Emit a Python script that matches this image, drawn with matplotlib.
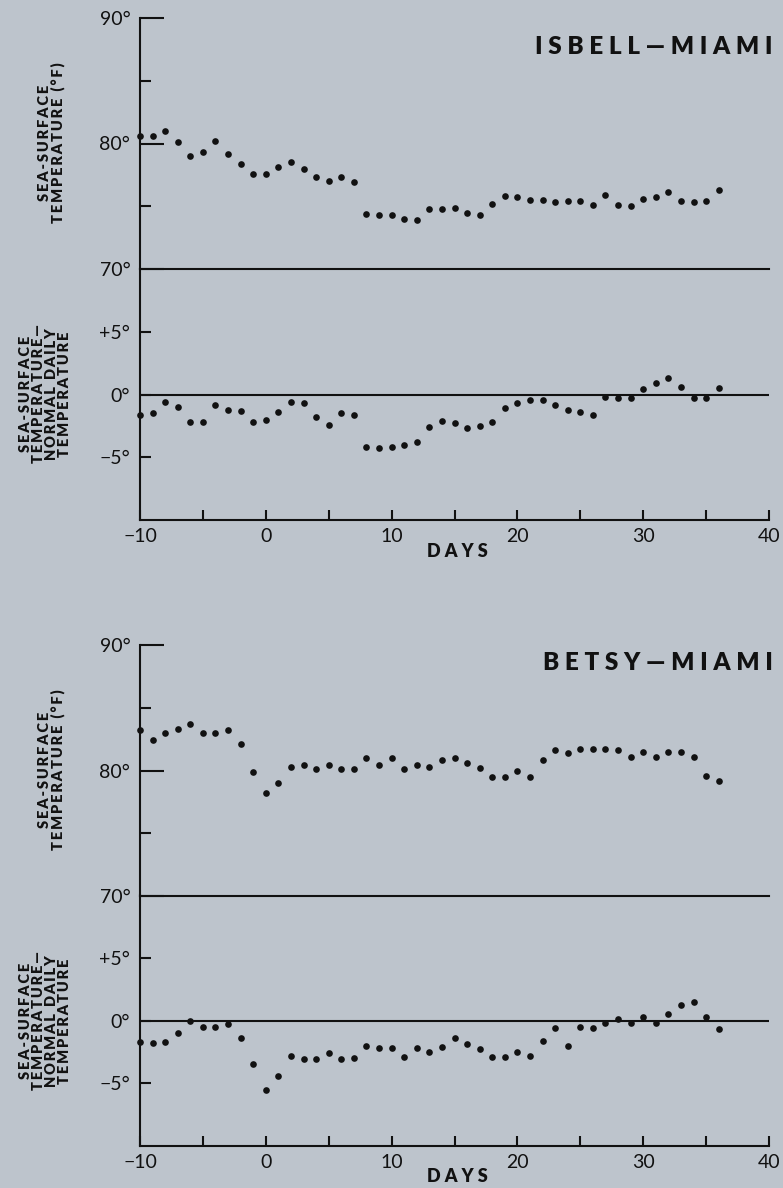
import numpy as np
import matplotlib
matplotlib.use("Agg")
import matplotlib.pyplot as plt
from matplotlib.ticker import FixedLocator

plt.rcParams['font.family'] = ['Lato', 'DejaVu Sans']

days = np.arange(-10, 37)

# Isbell - Miami
isbell_sst = [80.6, 80.6, 81.0, 80.1, 79.0, 79.3, 80.2, 79.2, 78.4, 77.6,
              77.6, 78.1, 78.5, 78.0, 77.3, 77.0, 77.3, 76.9, 74.4, 74.3,
              74.3, 74.0, 73.9, 74.8, 74.8, 74.9, 74.5, 74.3, 75.2, 75.8,
              75.7, 75.5, 75.5, 75.3, 75.4, 75.4, 75.1, 75.9, 75.1, 75.0,
              75.6, 75.7, 76.1, 75.4, 75.3, 75.4, 76.3]
isbell_anom = [-1.6, -1.5, -0.6, -1.0, -2.2, -2.2, -0.8, -1.2, -1.3, -2.2,
               -2.0, -1.4, -0.6, -0.7, -1.8, -2.4, -1.5, -1.6, -4.2, -4.3,
               -4.2, -4.0, -3.8, -2.6, -2.1, -2.3, -2.7, -2.5, -2.2, -1.1,
               -0.7, -0.4, -0.4, -0.8, -1.2, -1.4, -1.6, -0.2, -0.3, -0.3,
               0.4, 0.9, 1.3, 0.6, -0.3, -0.3, 0.5]

# Betsy - Miami
betsy_sst = [83.2, 82.4, 83.0, 83.3, 83.7, 83.0, 83.0, 83.2, 82.1, 79.9,
             78.2, 79.0, 80.3, 80.4, 80.1, 80.4, 80.1, 80.1, 81.0, 80.4,
             81.0, 80.1, 80.4, 80.3, 80.8, 81.0, 80.6, 80.2, 79.5, 79.5,
             80.0, 79.5, 80.8, 81.6, 81.4, 81.7, 81.7, 81.7, 81.6, 81.1,
             81.5, 81.1, 81.5, 81.5, 81.1, 79.6, 79.2]
betsy_anom = [-1.7, -1.8, -1.7, -1.0, 0.0, -0.5, -0.5, -0.3, -1.4, -3.5,
              -5.5, -4.4, -2.8, -3.1, -3.1, -2.6, -3.1, -3.0, -2.0, -2.2,
              -2.2, -2.9, -2.2, -2.5, -2.1, -1.4, -1.9, -2.3, -2.9, -2.9,
              -2.5, -2.8, -1.6, -0.6, -2.0, -0.5, -0.6, -0.2, 0.1, -0.2,
              0.3, -0.2, 0.5, 1.2, 1.5, 0.3, -0.7]

x_major = [-10, 0, 10, 20, 30, 40]
x_labels = ["\u221210", "0", "10", "20", "30", "40"]
x_minor = [-5, 5, 15, 25, 35]

bg = "#bdc4cc"
ink = "#111111"
lw = 1.5


def spaced(s, sep="\u2009"):
    return "\n".join(sep.join(line) for line in s.split("\n"))


def panel(fig, y_up, y_low, sst, anom, title, title_y, lab_up_y, lab_low_y, days_y):
    left, width, h = 140 / 783, 629 / 783, 251 / 1188
    ax1 = fig.add_axes([left, y_up, width, h])
    ax2 = fig.add_axes([left, y_low, width, h], sharex=ax1)
    for ax in (ax1, ax2):
        ax.set_facecolor("none")
        ax.spines[["top", "right"]].set_visible(False)
        for s in ("left", "bottom"):
            ax.spines[s].set_linewidth(lw)
            ax.spines[s].set_color(ink)
    ax1.plot(days, sst, "o", color=ink, ms=4.8, mew=0, clip_on=False)
    ax2.plot(days, anom, "o", color=ink, ms=4.8, mew=0, clip_on=False)
    ax2.axhline(0, color=ink, lw=lw)

    ax1.set_xlim(-10, 40)
    ax1.set_ylim(70, 90)
    ax2.set_ylim(-10, 10)

    ax1.set_yticks([70, 80, 90], ["70\u00b0", "80\u00b0", "90\u00b0"])
    ax1.yaxis.set_minor_locator(FixedLocator([75, 85]))
    ax1.tick_params(axis="y", which="major", direction="in", length=17, width=lw,
                    pad=7, labelsize=14, colors=ink)
    ax1.tick_params(axis="y", which="minor", direction="in", length=8, width=lw, colors=ink)
    ax1.tick_params(axis="x", which="both", bottom=False, labelbottom=False)

    ax2.set_yticks([-5, 0, 5], ["\u22125\u00b0", "0\u00b0", "+5\u00b0"])
    ax2.tick_params(axis="y", direction="in", length=8, width=lw, pad=7,
                    labelsize=14, colors=ink)
    ax2.set_xticks(x_major, x_labels)
    ax2.xaxis.set_minor_locator(FixedLocator(x_minor))
    ax2.tick_params(axis="x", which="both", direction="in", length=7, width=lw,
                    pad=6, labelsize=14, colors=ink)

    fig.text(0.987, title_y, spaced(title, " "), ha="right", va="center",
             fontsize=17.5, fontweight="heavy", color=ink)
    fig.text(0.066, lab_up_y, spaced("SEA-SURFACE\nTEMPERATURE (\u00b0F)"),
             rotation=90, ha="center", va="center", multialignment="center",
             fontsize=10.5, fontweight="heavy", color=ink, linespacing=1.0)
    fig.text(0.058, lab_low_y,
             spaced("SEA-SURFACE\nTEMPERATURE\u2014\nNORMAL DAILY\nTEMPERATURE"),
             rotation=90, ha="center", va="center", multialignment="center",
             fontsize=10.5, fontweight="heavy", color=ink, linespacing=1.0)
    fig.text(0.584, days_y, spaced("DAYS", " "), ha="center", va="center",
             fontsize=13, fontweight="heavy", color=ink)


fig = plt.figure(figsize=(7.83, 11.88), dpi=100)
fig.patch.set_facecolor(bg)

panel(fig, 1 - 269 / 1188, 1 - 520 / 1188, isbell_sst, isbell_anom,
      "ISBELL\u2014MIAMI", 1 - 47 / 1188, 1 - 143 / 1188, 1 - 394 / 1188, 1 - 551 / 1188)
panel(fig, 1 - 896 / 1188, 1 - 1146 / 1188, betsy_sst, betsy_anom,
      "BETSY\u2014MIAMI", 1 - 663 / 1188, 1 - 770 / 1188, 1 - 1021 / 1188, 1 - 1177 / 1188)

fig.savefig("out.png", dpi=100, facecolor=bg)
